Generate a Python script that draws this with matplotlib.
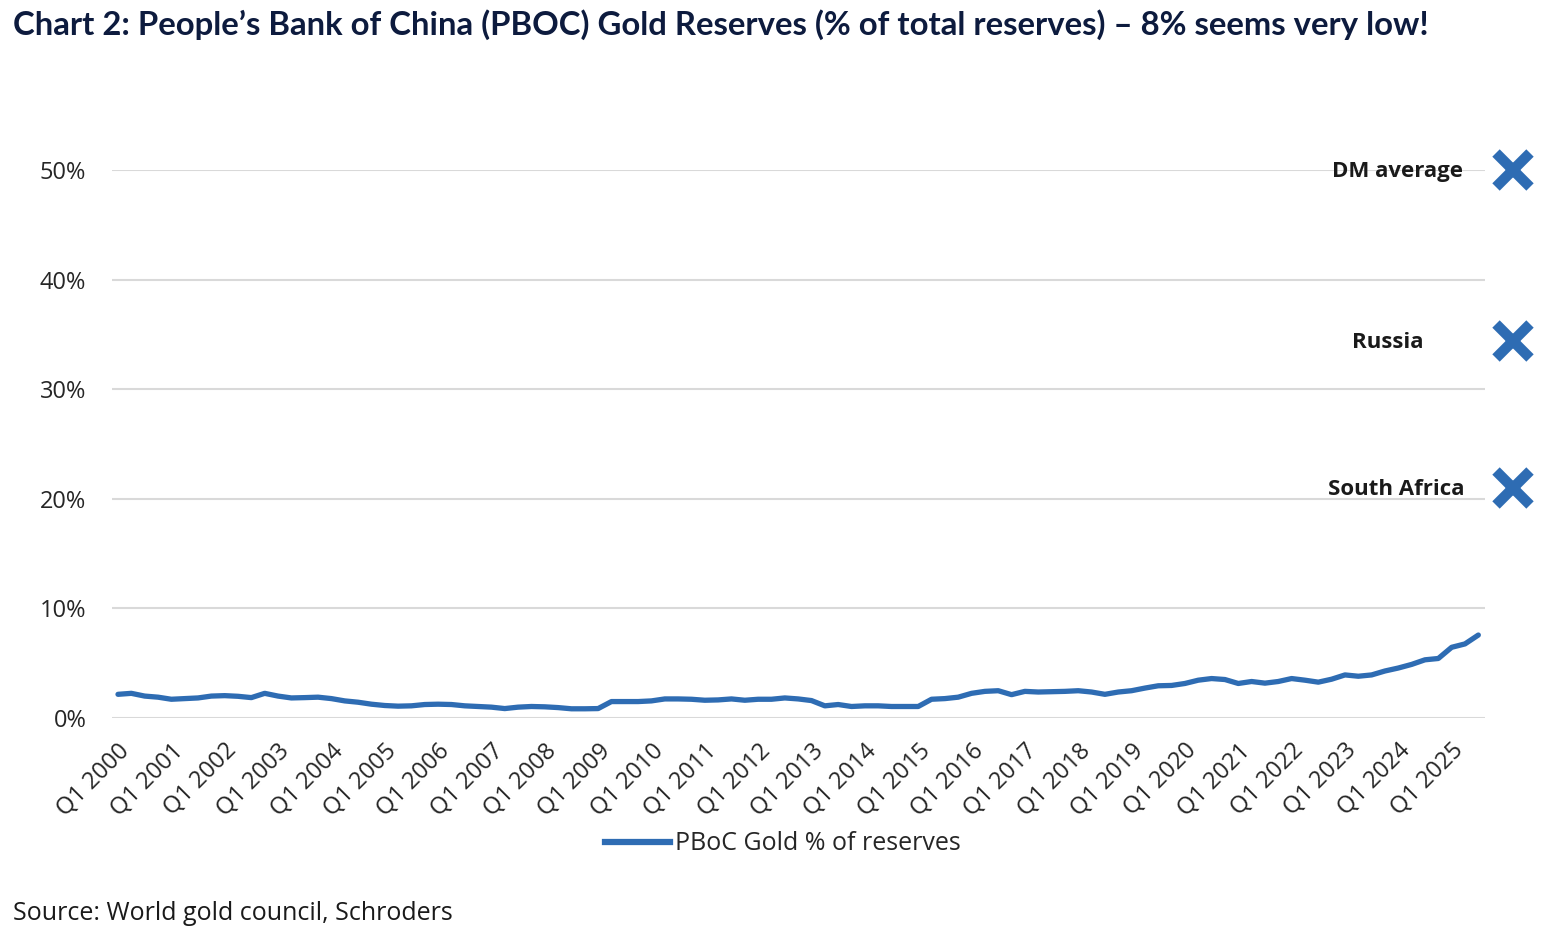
import matplotlib
matplotlib.use("Agg")
import matplotlib.pyplot as plt
from matplotlib.lines import Line2D

# ---- data ----
years = list(range(2000, 2026))
quarters = [f"Q{q} {y}" for y in years for q in range(1, 5)][:103]  # Q1 2000 .. Q3 2025
gold_pct = [
    2.16, 2.25, 2.00, 1.90, 1.71, 1.77, 1.83, 2.00, 2.04, 1.98,
    1.86, 2.25, 2.00, 1.83, 1.86, 1.90, 1.77, 1.56, 1.44, 1.26,
    1.14, 1.08, 1.11, 1.23, 1.26, 1.23, 1.11, 1.05, 0.99, 0.86,
    0.99, 1.05, 1.02, 0.95, 0.84, 0.84, 0.86, 1.50, 1.50, 1.50,
    1.56, 1.74, 1.74, 1.71, 1.62, 1.65, 1.74, 1.62, 1.71, 1.71,
    1.83, 1.74, 1.59, 1.11, 1.23, 1.05, 1.11, 1.11, 1.05, 1.05,
    1.05, 1.71, 1.77, 1.90, 2.25, 2.43, 2.49, 2.13, 2.43, 2.37,
    2.40, 2.43, 2.49, 2.37, 2.16, 2.37, 2.49, 2.73, 2.94, 2.97,
    3.15, 3.45, 3.60, 3.51, 3.15, 3.33, 3.18, 3.33, 3.60, 3.45,
    3.27, 3.54, 3.93, 3.81, 3.93, 4.29, 4.56, 4.89, 5.31, 5.43,
    6.45, 6.76, 7.57,
]
peer_names = ["DM average", "Russia", "South Africa"]
peer_pct = [50.0, 34.4, 21.0]
yticks = [0, 10, 20, 30, 40, 50]
ytick_labels = ["0%", "10%", "20%", "30%", "40%", "50%"]
tick_idx = list(range(0, 103, 4))
tick_labels = [quarters[i] for i in tick_idx]

title = "Chart 2: People\u2019s Bank of China (PBOC) Gold Reserves (% of total reserves) \u2013 8% seems very low!"
source = "Source: World gold council, Schroders"
series_name = "PBoC Gold % of reserves"

# ---- style ----
blue = "#2e6cb3"
plt.rcParams["font.family"] = ["Open Sans", "DejaVu Sans"]

fig = plt.figure(figsize=(15.54, 9.4), dpi=100)
ax = fig.add_axes([112 / 1554, 1 - 718 / 940, (1485 - 112) / 1554, (718 - 170) / 940])

x = list(range(len(gold_pct)))
ax.plot(x, gold_pct, color=blue, lw=3.8, solid_capstyle="round", solid_joinstyle="round", zorder=3)

ax.set_xlim(-0.45, 102.5)
ax.set_ylim(0, 50)
ax.set_yticks(yticks)
ax.set_yticklabels(ytick_labels)
ax.set_xticks(tick_idx)
ax.set_xticklabels(tick_labels, rotation=45, ha="right", va="top", rotation_mode="anchor")
ax.tick_params(axis="both", length=0, labelsize=17)
ax.tick_params(axis="y", pad=18.5)
ax.tick_params(axis="x", pad=15)
for lab in ax.get_xticklabels() + ax.get_yticklabels():
    lab.set_color("#262626")

ax.grid(axis="y", color="#d9d9d9", lw=1.5)
ax.set_axisbelow(True)
for s in ax.spines.values():
    s.set_visible(False)

# peer markers outside the plot area
px = 104.6
offsets = [-50, -90, -49]
for name, v, off in zip(peer_names, peer_pct, offsets):
    ax.plot([px], [v], marker="x", ms=25, mew=7.5, color=blue, clip_on=False, zorder=4)
    ax.annotate(name, xy=(px, v), xytext=(off, -2), textcoords="offset pixels",
                ha="right", va="center", fontsize=16, fontweight="bold", color="#1a1a1a",
                annotation_clip=False)

# legend
handle = Line2D([0], [0], color=blue, lw=4.5)
leg = fig.legend([handle], [series_name], loc="center", bbox_to_anchor=(783 / 1554, 1 - 844 / 940),
                 frameon=False, fontsize=18, handlelength=2.6, handletextpad=0.2)
for t in leg.get_texts():
    t.set_color("#262626")

fig.text(13 / 1554, 1 - 25 / 940, title, ha="left", va="center", fontsize=23.7,
         fontweight="bold", color="#0d1b3e", family=["Lato", "DejaVu Sans"])
fig.text(13 / 1554, 1 - 913 / 940, source, ha="left", va="center", fontsize=18, color="#1a1a1a")

fig.savefig("out.png", dpi=100, facecolor="white")
